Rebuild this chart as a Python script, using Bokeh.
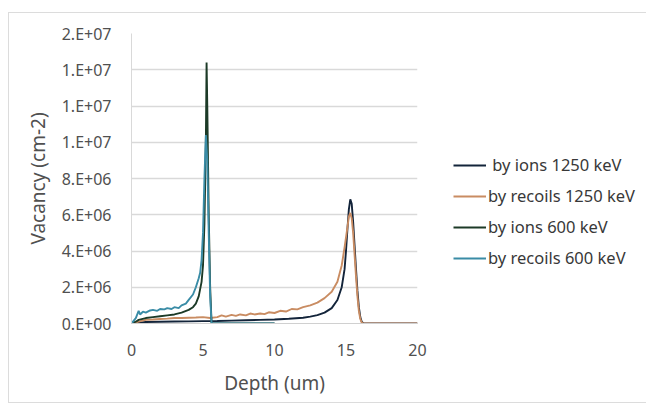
from bokeh.plotting import figure
from bokeh.models import Legend, LegendItem, CustomJSTickFormatter, FixedTicker
from bokeh.embed import file_html
from bokeh.resources import INLINE

# ---- data (depth in um, vacancy in cm-2) ----
ions1250_x = [0, 0.5, 1, 2, 3, 4, 5, 6, 7, 8, 9, 10, 11, 12, 12.5, 13, 13.5, 14, 14.4, 14.7, 14.9,
              15.0, 15.1, 15.2, 15.3, 15.4, 15.5, 15.6, 15.7, 15.8, 15.9, 16.0, 16.1, 16.2, 16.3, 20]
ions1250_y = [0, 0.05e6, 0.08e6, 0.1e6, 0.11e6, 0.12e6, 0.13e6, 0.14e6, 0.16e6, 0.18e6, 0.2e6, 0.22e6,
              0.26e6, 0.32e6, 0.38e6, 0.46e6, 0.6e6, 0.85e6, 1.3e6, 2.0e6, 3.0e6,
              4.0e6, 5.2e6, 6.3e6, 6.85e6, 6.6e6, 5.6e6, 4.3e6, 3.0e6, 1.8e6, 0.9e6, 0.35e6, 0.1e6, 0.02e6, 0, 0]

rec1250_x = [0, 0.5, 1, 1.5, 2, 2.5, 3, 3.5, 4, 4.5, 5, 5.5, 6, 6.3, 6.6, 7, 7.3, 7.6, 8, 8.3, 8.6, 9,
             9.3, 9.6, 10, 10.4, 10.8, 11.2, 11.6, 12, 12.5, 13, 13.5, 14, 14.4, 14.7, 14.9,
             15.1, 15.2, 15.3, 15.4, 15.5, 15.6, 15.7, 15.8, 15.9, 16.0, 16.1, 16.2, 20]
rec1250_y = [0, 0.1e6, 0.2e6, 0.22e6, 0.25e6, 0.27e6, 0.3e6, 0.3e6, 0.32e6, 0.33e6, 0.35e6, 0.3e6,
             0.35e6, 0.45e6, 0.38e6, 0.48e6, 0.42e6, 0.5e6, 0.45e6, 0.55e6, 0.5e6, 0.55e6,
             0.52e6, 0.62e6, 0.58e6, 0.7e6, 0.66e6, 0.8e6, 0.78e6, 0.9e6, 1.0e6, 1.15e6, 1.4e6, 1.75e6,
             2.3e6, 3.2e6, 4.2e6, 5.3e6, 5.9e6, 6.1e6, 5.8e6, 5.0e6, 3.8e6, 2.6e6, 1.5e6, 0.7e6,
             0.25e6, 0.05e6, 0, 0]

ions600_x = [0, 0.3, 0.5, 1, 1.5, 2, 2.5, 3, 3.5, 4, 4.3, 4.5, 4.7, 4.9, 5.0, 5.1, 5.2, 5.25, 5.3,
             5.4, 5.5, 5.6, 10]
ions600_y = [0, 0.1e6, 0.2e6, 0.3e6, 0.35e6, 0.4e6, 0.45e6, 0.5e6, 0.6e6, 0.75e6, 0.9e6, 1.1e6,
             1.5e6, 2.3e6, 3.2e6, 5.5e6, 10.0e6, 14.4e6, 12.0e6, 6.0e6, 2.0e6, 0, 0]

rec600_x = [0, 0.3, 0.5, 0.6, 0.8, 1, 1.3, 1.5, 1.8, 2, 2.3, 2.5, 2.8, 3, 3.3, 3.5, 3.8, 4, 4.3,
            4.5, 4.7, 4.8, 4.9, 5.0, 5.1, 5.2, 5.3, 5.4, 5.5, 5.6, 10]
rec600_y = [0, 0.3e6, 0.7e6, 0.5e6, 0.65e6, 0.6e6, 0.72e6, 0.75e6, 0.7e6, 0.8e6, 0.78e6, 0.85e6,
            0.8e6, 0.9e6, 0.85e6, 1.0e6, 1.1e6, 1.3e6, 1.6e6, 2.0e6, 2.5e6, 2.8e6, 3.5e6, 5.0e6,
            8.0e6, 10.4e6, 9.0e6, 5.0e6, 1.5e6, 0, 0]

series_names = [" by ions 1250 keV", "by recoils 1250 keV", "by ions 600 keV", "by recoils 600 keV"]
series_colors = ["#13243a", "#c98c62", "#1c3a27", "#3a8ca6"]

x_ticks = [0, 5, 10, 15, 20]
y_ticks = [0, 2e6, 4e6, 6e6, 8e6, 1.0e7, 1.2e7, 1.4e7, 1.6e7]

FONT = "Noto Sans"

p = figure(frame_width=286, frame_height=290, x_range=(0, 20), y_range=(0, 1.6e7),
           output_backend="svg", toolbar_location=None,
           min_border_left=122, min_border_right=224, min_border_top=20, min_border_bottom=79)
p.margin = (12, 0, 0, 8)
p.styles = {"border": "1px solid #dcdcdc"}
p.outline_line_color = None
p.background_fill_color = "white"
p.border_fill_color = "white"

xs = [ions1250_x, rec1250_x, ions600_x, rec600_x]
ys = [ions1250_y, rec1250_y, ions600_y, rec600_y]
renderers = []
for x, y, c in zip(xs, ys, series_colors):
    r = p.line(x, y, line_color=c, line_width=1.9)
    renderers.append(r)

# axes
p.xaxis.ticker = FixedTicker(ticks=x_ticks)
p.yaxis.ticker = FixedTicker(ticks=y_ticks)
p.yaxis.formatter = CustomJSTickFormatter(code="""
const s = tick.toExponential(0);
const parts = s.split('e');
let e = parseInt(parts[1]);
const sign = e < 0 ? '-' : '+';
e = Math.abs(e);
return parts[0] + '.E' + sign + (e < 10 ? '0' + e : '' + e);
""")
for ax in (p.xaxis, p.yaxis):
    ax.major_tick_line_color = None
    ax.minor_tick_line_color = None
    ax.major_label_text_font = FONT
    ax.major_label_text_font_size = "16px"
    ax.major_label_text_color = "#505050"
    ax.axis_label_text_font = FONT
    ax.axis_label_text_font_size = "19px"
    ax.axis_label_text_font_style = "normal"
    ax.axis_label_text_color = "#505050"
    ax.axis_line_color = "#d9d9d9"

p.xaxis.axis_label = "Depth (um)"
p.yaxis.axis_label = "Vacancy (cm-2)"
p.yaxis.major_label_standoff = 14
p.xaxis.major_label_standoff = 14
p.yaxis.axis_label_standoff = 8
p.xaxis.axis_label_standoff = 11
p.xaxis.axis_line_color = "#d0d0d0"

p.xgrid.grid_line_color = None
p.ygrid.grid_line_color = "#d9d9d9"
p.ygrid.grid_line_width = 1.5

items = [LegendItem(label=n, renderers=[r]) for n, r in zip(series_names, renderers)]
legend = Legend(items=items, location="top_left", orientation="vertical",
                title=" ", title_text_font_size="1px", title_standoff=83,
                padding=0, margin=36, border_line_color=None, background_fill_alpha=0,
                label_text_font=FONT, label_text_font_size="16.5px", label_text_color="#383838",
                glyph_width=33, glyph_height=20, label_height=20, label_standoff=2, spacing=8)
p.add_layout(legend, "right")

open("out.html", "w").write(file_html(p, INLINE))
